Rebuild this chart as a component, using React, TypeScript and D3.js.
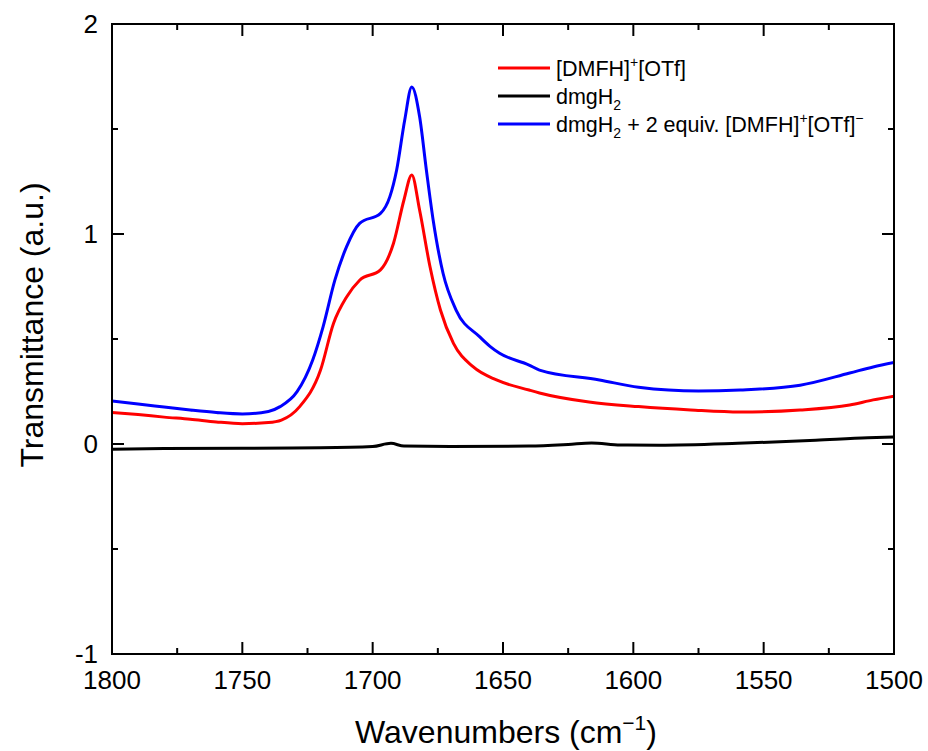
import React from "react";
import * as d3 from "d3";

const redX = [1800, 1790, 1780, 1770, 1760, 1750, 1740, 1735, 1728, 1720, 1715, 1710, 1705, 1697, 1692, 1688, 1685, 1682, 1678, 1674, 1669, 1661.5, 1652.5, 1640, 1636, 1617, 1598, 1578, 1559, 1536, 1517, 1508, 1500];
const redY = [0.150, 0.140, 0.128, 0.118, 0.105, 0.097, 0.102, 0.114, 0.178, 0.352, 0.575, 0.700, 0.780, 0.829, 0.956, 1.162, 1.281, 1.114, 0.844, 0.638, 0.479, 0.368, 0.305, 0.257, 0.243, 0.200, 0.178, 0.162, 0.152, 0.162, 0.186, 0.210, 0.228];

const blueX = [1800, 1790, 1780, 1770, 1760, 1750, 1740, 1735.5, 1729, 1723, 1719, 1714.5, 1710, 1705, 1697, 1693.4, 1690.8, 1687.7, 1685, 1682, 1679.4, 1676.8, 1673, 1668, 1659, 1655, 1651.3, 1640, 1636, 1613, 1598, 1575, 1559, 1536, 1517, 1508, 1500];
const blueY = [0.205, 0.190, 0.176, 0.162, 0.150, 0.143, 0.155, 0.178, 0.249, 0.400, 0.559, 0.780, 0.940, 1.051, 1.098, 1.178, 1.305, 1.543, 1.700, 1.559, 1.305, 1.067, 0.813, 0.638, 0.511, 0.465, 0.432, 0.376, 0.352, 0.305, 0.270, 0.252, 0.257, 0.280, 0.338, 0.367, 0.388];

const blackX = [1800, 1780, 1750, 1720, 1700, 1693, 1688, 1670, 1640, 1625, 1616, 1605, 1590, 1560, 1530, 1510, 1500];
const blackY = [-0.025, -0.022, -0.020, -0.018, -0.012, 0.003, -0.010, -0.012, -0.010, -0.002, 0.005, -0.005, -0.006, 0.003, 0.018, 0.030, 0.033];

const xMajor = [1800, 1750, 1700, 1650, 1600, 1550, 1500];
const xMinor = [1775, 1725, 1675, 1625, 1575, 1525];
const yMajor = [-1, 0, 1, 2];
const yMinor = [-0.5, 0.5, 1.5];

const FONT = "'Liberation Sans', Arial, sans-serif";

export default function App() {
  const W = 928, H = 751;
  const L = 112, R = 894, T = 24, B = 654;
  const x = d3.scaleLinear().domain([1800, 1500]).range([L, R]);
  const y = d3.scaleLinear().domain([-1, 2]).range([B, T]);
  const line = d3.line<number>().curve(d3.curveMonotoneX);
  const mk = (xs: number[], ys: number[]) =>
    line(xs.map((v, i) => [x(v), y(ys[i])]) as any) || "";

  const series = [
    { xs: redX, ys: redY, color: "#ff0000" },
    { xs: blackX, ys: blackY, color: "#000000" },
    { xs: blueX, ys: blueY, color: "#0000ff" },
  ];

  const sup = 14;
  const legend = [
    { color: "#ff0000", y: 68, label: <>[DMFH]<tspan dy={-9} fontSize={sup}>+</tspan><tspan dy={9}>[OTf]</tspan></> },
    { color: "#000000", y: 96, label: <>dmgH<tspan dy={6} fontSize={sup}>2</tspan></> },
    { color: "#0000ff", y: 124, label: <>dmgH<tspan dy={6} fontSize={sup}>2</tspan><tspan dy={-6}> + 2 equiv. [DMFH]</tspan><tspan dy={-9} fontSize={sup}>+</tspan><tspan dy={9}>[OTf]</tspan><tspan dy={-9} fontSize={sup}>−</tspan></> },
  ];

  return (
    <svg width={W} height={H} style={{ position: "absolute", left: 0, top: 0 }} fontFamily={FONT}>
      <rect width={W} height={H} fill="#fff" />
      <defs>
        <clipPath id="clip"><rect x={L} y={T} width={R - L} height={B - T} /></clipPath>
      </defs>
      <g clipPath="url(#clip)">
        {series.map((s, i) => (
          <path key={i} d={mk(s.xs, s.ys)} fill="none" stroke={s.color} strokeWidth={3} strokeLinejoin="round" />
        ))}
      </g>
      <g stroke="#000" strokeWidth={2}>
        {xMajor.map((v) => (
          <g key={"xm" + v}>
            <line x1={x(v)} x2={x(v)} y1={B} y2={B - 12} />
            <line x1={x(v)} x2={x(v)} y1={T} y2={T + 12} />
          </g>
        ))}
        {xMinor.map((v) => (
          <g key={"xn" + v}>
            <line x1={x(v)} x2={x(v)} y1={B} y2={B - 6} />
            <line x1={x(v)} x2={x(v)} y1={T} y2={T + 6} />
          </g>
        ))}
        {yMajor.map((v) => (
          <g key={"ym" + v}>
            <line x1={L} x2={L + 12} y1={y(v)} y2={y(v)} />
            <line x1={R} x2={R - 12} y1={y(v)} y2={y(v)} />
          </g>
        ))}
        {yMinor.map((v) => (
          <g key={"yn" + v}>
            <line x1={L} x2={L + 6} y1={y(v)} y2={y(v)} />
            <line x1={R} x2={R - 6} y1={y(v)} y2={y(v)} />
          </g>
        ))}
        <rect x={L} y={T} width={R - L} height={B - T} fill="none" />
      </g>
      <g fontSize={26} fill="#000">
        {xMajor.map((v) => (
          <text key={"xl" + v} x={x(v)} y={B + 35} textAnchor="middle">{v}</text>
        ))}
        {yMajor.map((v) => (
          <text key={"yl" + v} x={L - 14} y={y(v) + 9} textAnchor="end">{v}</text>
        ))}
      </g>
      <text x={(L + R) / 2 + 3} y={743} textAnchor="middle" fontSize={32}>
        Wavenumbers (cm<tspan dy={-13} fontSize={21}>−1</tspan><tspan dy={13}>)</tspan>
      </text>
      <text transform={`translate(43, ${325}) rotate(-90)`} textAnchor="middle" fontSize={32}>
        Transmittance (a.u.)
      </text>
      {legend.map((l, i) => (
        <g key={i}>
          <line x1={498} x2={550} y1={l.y} y2={l.y} stroke={l.color} strokeWidth={3} />
          <text x={556} y={l.y + 8} fontSize={21.5}>{l.label}</text>
        </g>
      ))}
    </svg>
  );
}
